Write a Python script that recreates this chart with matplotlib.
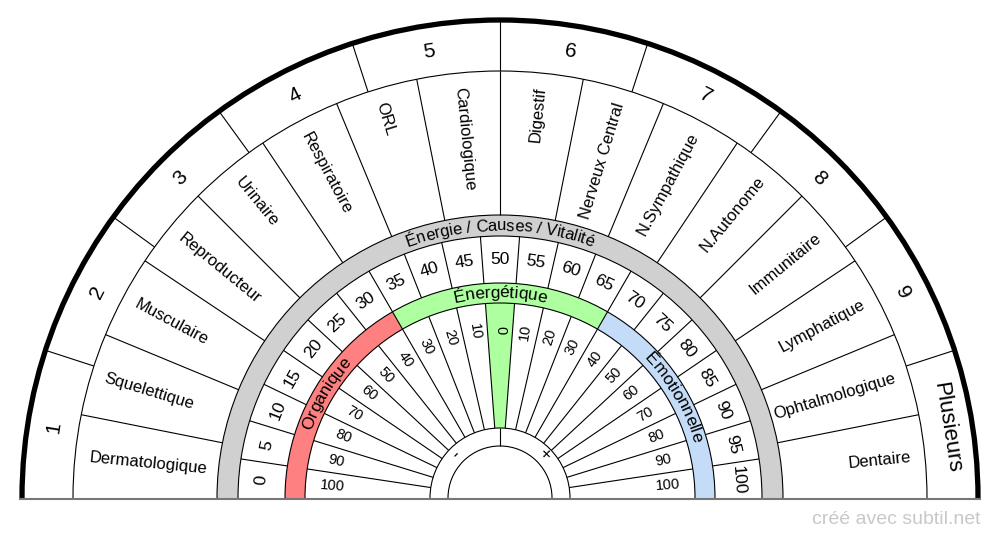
import numpy as np
import matplotlib
matplotlib.use("Agg")
import matplotlib.pyplot as plt
from matplotlib.patches import Wedge, Arc
from matplotlib.textpath import TextToPath
from matplotlib.font_manager import FontProperties

outer_labels = ["1", "2", "3", "4", "5", "6", "7", "8", "9", "Plusieurs"]
organ_labels = ["Dermatologique", "Squelettique", "Musculaire", "Reproducteur", "Urinaire",
                "Respiratoire", "ORL", "Cardiologique", "Digestif", "Nerveux Central",
                "N.Sympathique", "N.Autonome", "Immunitaire", "Lymphatique",
                "Ophtalmologique", "Dentaire"]
scale_labels = [str(v) for v in range(0, 101, 5)]
inner_labels = ["100", "90", "80", "70", "60", "50", "40", "30", "20", "10", "0",
                "10", "20", "30", "40", "50", "60", "70", "80", "90", "100"]
band_labels = ["Organique", "Énergétique", "Émotionnelle"]
band_colors = ["#ff8080", "#adff9f", "#c4dcf8"]
ring_title = "Énergie / Causes / Vitalité"

FONT = "Liberation Sans"
plt.rcParams['font.family'] = [FONT, 'DejaVu Sans']

fig = plt.figure(figsize=(10, 5.4), dpi=100)
ax = fig.add_axes([0, 0, 1, 1])
ax.set_xlim(0, 1000)
ax.set_ylim(540, 0)
ax.axis("off")

cx, cy = 500, 498
R_HOLE, R_PM, R_RAY, R_BAND, R_SCALE, R_GRAY, R_ORG, R_OUT = 52, 70, 195, 215, 262, 283, 427, 478

def pt(r, th):
    t = np.radians(th)
    return cx + r * np.cos(t), cy - r * np.sin(t)

def ray(th, r1, r2, lw=0.8, c="black"):
    x1, y1 = pt(r1, th); x2, y2 = pt(r2, th)
    ax.plot([x1, x2], [y1, y2], color=c, lw=lw, solid_capstyle="butt")

def wedge(r, th1, th2, width, color):
    ax.add_patch(Wedge((cx, cy), r, -th2, -th1, width=width, facecolor=color, edgecolor="none"))

def arc(r, lw=0.8, c="black"):
    ax.add_patch(Arc((cx, cy), 2 * r, 2 * r, theta1=180, theta2=360, color=c, lw=lw))

def rad_rot(th):
    return th if th <= 90 else th - 180

# fills
wedge(R_GRAY, 0, 180, R_GRAY - R_SCALE, "#d0d0d0")
for i, col in enumerate(band_colors):
    wedge(R_BAND, 120 - 60 * i + 0, 180 - 60 * i, R_BAND - R_RAY, col)
nsec = len(inner_labels)
step = 180 / nsec
wedge(R_RAY, 90 - step / 2, 90 + step / 2, R_RAY - R_PM, band_colors[1])

# circles
for r in [R_HOLE, R_PM, R_RAY, R_BAND, R_SCALE, R_GRAY, R_ORG]:
    arc(r)
arc(R_OUT, lw=3.8)
ax.plot([20, 980], [cy + 1, cy + 1], color="#777777", lw=1.5)

# inner rays and labels
for i in range(1, nsec):
    ray(180 - i * step, R_PM, R_RAY)
    ray(180 - i * step, R_BAND, R_SCALE)
for i, lab in enumerate(inner_labels):
    th = 180 - (i + 0.5) * step
    x, y = pt(168, th)
    rot = -90 if abs(th - 90) < 1e-6 else rad_rot(th)
    ax.text(x, y, lab, rotation=rot, ha="center", va="center", fontsize=10.5, rotation_mode="anchor")
for i, lab in enumerate(scale_labels):
    th = 180 - (i + 0.5) * step
    x, y = pt(239, th)
    ax.text(x, y, lab, rotation=th - 90, ha="center", va="center", fontsize=12.5, rotation_mode="anchor")
for th in (60, 120):
    ray(th, R_RAY, R_BAND)
ray(90, R_HOLE, R_PM)
x, y = pt(61, 135); ax.text(x, y, "-", rotation=45, ha="center", va="center", fontsize=13)
x, y = pt(61, 45); ax.text(x, y, "+", rotation=-45, ha="center", va="center", fontsize=13)

# organ ring
no = len(organ_labels)
so = 180 / no
for i in range(1, no):
    ray(180 - i * so, R_GRAY, R_ORG)
for i, lab in enumerate(organ_labels):
    th = 180 - (i + 0.5) * so
    x, y = pt(413, th)
    ax.text(x, y, lab, rotation=rad_rot(th), ha="left" if th > 90 else "right", va="center",
            fontsize=12, rotation_mode="anchor")

# outer ring
nn = len(outer_labels)
sn = 180 / nn
for i in range(1, nn):
    ray(180 - i * sn, R_ORG, R_OUT)
for i, lab in enumerate(outer_labels):
    th = 180 - (i + 0.5) * sn
    x, y = pt(452, th)
    ax.text(x, y, lab, rotation=th - 90, ha="center", va="center", fontsize=15 if i < 9 else 16,
            rotation_mode="anchor")

# curved text
t2p = TextToPath()
def curved(s, r, thc, fs):
    fp = FontProperties(family=FONT, size=fs)
    def w(t):
        if not t:
            return 0.0
        return t2p.get_text_width_height_descent(t.replace(" ", "\u00a0"), fp, ismath=False)[0] * 100 / 72
    total = w(s)
    start = thc + np.degrees(total / 2 / r)
    for k, ch in enumerate(s):
        mid = w(s[:k]) + w(ch) / 2
        th = start - np.degrees(mid / r)
        x, y = pt(r, th)
        ax.text(x, y, ch, rotation=th - 90, ha="center", va="center", fontsize=fs,
                rotation_mode="anchor")

curved(ring_title, 272, 90, 12)
curved(band_labels[0], 205, 149, 12.5)
curved(band_labels[1], 205, 90, 12.5)
curved(band_labels[2], 205, 30, 12.5)

ax.text(980, 519, "créé avec subtil.net", ha="right", va="center", fontsize=14, color="#c8c8c8")

fig.savefig("out.png", dpi=100)
